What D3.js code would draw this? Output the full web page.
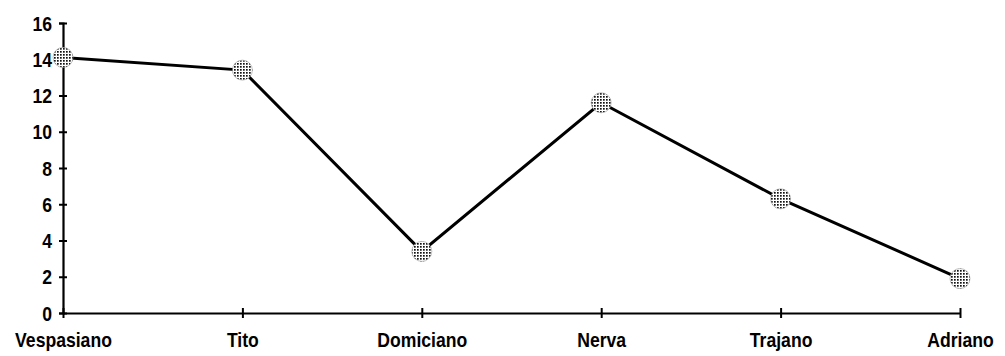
<!DOCTYPE html>
<html><head><meta charset="utf-8">
<script src="https://cdn.jsdelivr.net/npm/d3@7"></script>
<style>body{margin:0;background:#fff}svg{display:block}</style>
</head><body>
<script>
const categories = ["Vespasiano","Tito","Domiciano","Nerva","Trajano","Adriano"];
const values = [14.1, 13.4, 3.4, 11.6, 6.3, 1.9];
const yTicks = [0,2,4,6,8,10,12,14,16];

const W = 1005, H = 356;
const svg = d3.select("body").append("svg").attr("width", W).attr("height", H);
const defs = svg.append("defs");
const pat = defs.append("pattern").attr("id","dots").attr("patternUnits","userSpaceOnUse")
  .attr("width",3).attr("height",3);
pat.append("rect").attr("width",3).attr("height",3).attr("fill","#fff");
pat.append("rect").attr("width",1.7).attr("height",1.7).attr("fill","#111");

const x = d3.scalePoint().domain(categories).range([63, 960]).padding(0);
const y = d3.scaleLinear().domain([0,16]).range([313, 23]);
const font = "'Liberation Sans',Arial,sans-serif";
const sx = 0.88;

const yAxis = svg.append("g").attr("transform","translate(63,0)")
  .call(d3.axisLeft(y).tickValues(yTicks).tickSize(4));
yAxis.select(".domain").attr("stroke","#000").attr("stroke-width",2.2);
yAxis.selectAll(".tick line").attr("x2",4).attr("x1",-4).attr("stroke-width",2);
yAxis.selectAll("text").attr("font-family",font).attr("font-weight","bold").attr("font-size",20)
  .attr("fill","#000").attr("text-anchor","end").attr("x",-11/sx).attr("dy","0.36em")
  .attr("transform",`scale(${sx},1)`);

const xAxis = svg.append("g").attr("transform","translate(0,313)")
  .call(d3.axisBottom(x).tickSize(4).tickPadding(16).tickSizeOuter(0));
xAxis.select(".domain").attr("stroke","#000").attr("stroke-width",2.2);
xAxis.selectAll(".tick line").attr("y1",-5).attr("y2",5).attr("stroke-width",2);
xAxis.selectAll("text").attr("font-family",font).attr("font-weight","bold").attr("font-size",20)
  .attr("fill","#000").attr("transform",`scale(${sx},1)`);

const line = d3.line().x((d,i)=>x(categories[i])).y(d=>y(d));
svg.append("path").datum(values).attr("d",line).attr("fill","none")
  .attr("stroke","#000").attr("stroke-width",3);

svg.selectAll("circle.pt").data(values).enter().append("circle").attr("class","pt")
  .attr("cx",(d,i)=>x(categories[i])).attr("cy",d=>y(d)).attr("r",10)
  .attr("fill","url(#dots)").attr("stroke","#999").attr("stroke-width",0.6);
</script>
</body></html>
